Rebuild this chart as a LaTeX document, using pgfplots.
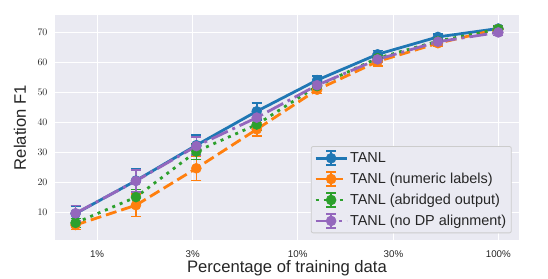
\documentclass[border=0pt]{standalone}
\usepackage{pgfplots}
\pgfplotsset{compat=1.18}
\usepackage{fontspec}
\setmainfont{Liberation Sans}
\definecolor{bg}{HTML}{EAEAF2}
\definecolor{cA}{HTML}{1F77B4}
\definecolor{cB}{HTML}{FF7F0E}
\definecolor{cC}{HTML}{2CA02C}
\definecolor{cD}{HTML}{9467BD}
\definecolor{txt}{HTML}{262626}
\definecolor{lgd}{HTML}{CCCCCC}
\pgfplotsset{
  eb legend/.style={legend image code/.code={
    \draw[##1, mark=none] (0bp,0bp) -- (31bp,0bp);
    \draw[##1, solid, mark=none, line width=1.6bp] (15.5bp,-7bp) -- (15.5bp,7bp) (10.5bp,-7bp) -- (20.5bp,-7bp) (10.5bp,7bp) -- (20.5bp,7bp);
    \draw[##1, draw=none] plot coordinates {(15.5bp,0bp)};
  }},
  myerr/.style={error bars/.cd, y dir=both, y explicit,
    error bar style={line width=1.6bp, solid},
    error mark options={rotate=90, mark size=5bp, line width=1.6bp, solid}},
}
\begin{document}
\begin{tikzpicture}
\begin{axis}[
  at={(0,0)}, anchor=south west,
  scale only axis, width=464bp, height=225bp,
  xmode=log, xmin=0.617, xmax=126.8, ymin=0.7, ymax=75.7,
  xtick={1,3,10,30,100}, xticklabels={1\%,3\%,10\%,30\%,100\%},
  minor xtick={},
  ytick={10,20,30,40,50,60,70},
  axis background/.style={fill=bg},
  axis line style={draw=none},
  grid=major, major grid style={white, line width=1.1bp},
  major tick length=0pt, minor tick length=0pt,
  tick style={draw=none},
  tick label style={font=\fontsize{9.8}{11}\selectfont, text=txt},
  xticklabel style={anchor=center, yshift=-14bp},
  yticklabel style={anchor=east, xshift=-4bp},
  xlabel={Percentage of training data}, ylabel={Relation F1},
  label style={font=\fontsize{16.7}{19}\selectfont, text=txt},
  xlabel style={at={(axis description cs:0.5,-0.1244)}, anchor=center},
  ylabel style={at={(axis description cs:-0.0754,0.5)}, anchor=center},
  legend style={at={(axis description cs:0.9843,0.0298)}, anchor=south east,
    fill=bg, draw=lgd, line width=0.8bp, rounded corners=2bp,
    font=\fontsize{14.5}{16}\selectfont, text=txt,
    row sep=5bp, inner xsep=3bp, inner ysep=4bp},
  legend cell align=left,
  eb legend,
  every axis plot/.append style={line width=2.8bp, mark=*, mark size=5bp,
     mark options={solid, line width=0.5bp}},
  clip=false,
]
\addplot[color=cA, solid, myerr] coordinates {
 (0.78125,9.5) +- (0,2.6)
 (1.5625,20.5) +- (0,4.0)
 (3.125,32.3) +- (0,3.4)
 (6.25,43.6) +- (0,2.8)
 (12.5,54.0) +- (0,1.3)
 (25,62.6) +- (0,1.3)
 (50,68.4) +- (0,1.0)
 (100,71.2) +- (0,0.8)
};
\addlegendentry{TANL}
\addplot[color=cB, dash pattern=on 11bp off 5bp, myerr] coordinates {
 (0.78125,5.7) +- (0,1.5)
 (1.5625,12.3) +- (0,3.7)
 (3.125,24.6) +- (0,4.0)
 (6.25,37.6) +- (0,2.3)
 (12.5,50.8) +- (0,1.3)
 (25,60.2) +- (0,1.5)
 (50,66.3) +- (0,1.0)
 (100,71.0) +- (0,1.2)
};
\addlegendentry{TANL (numeric labels)}
\addplot[color=cC, dash pattern=on 3bp off 5bp, myerr] coordinates {
 (0.78125,6.4) +- (0,1.5)
 (1.5625,15.0) +- (0,2.5)
 (3.125,30.2) +- (0,2.6)
 (6.25,39.2) +- (0,2.0)
 (12.5,52.0) +- (0,1.0)
 (25,61.3) +- (0,1.0)
 (50,67.0) +- (0,1.0)
 (100,71.0) +- (0,1.0)
};
\addlegendentry{TANL (abridged output)}
\addplot[color=cD, dash pattern=on 18bp off 5bp on 3bp off 5bp, myerr] coordinates {
 (0.78125,9.6) +- (0,2.6)
 (1.5625,20.4) +- (0,3.6)
 (3.125,32.0) +- (0,3.0)
 (6.25,41.5) +- (0,2.5)
 (12.5,52.3) +- (0,1.0)
 (25,60.9) +- (0,1.0)
 (50,66.8) +- (0,1.0)
 (100,69.9) +- (0,1.0)
};
\addlegendentry{TANL (no DP alignment)}
\end{axis}
\pgfresetboundingbox
\path (-55bp,-39bp) rectangle (493bp,240bp);
\end{tikzpicture}
\end{document}
